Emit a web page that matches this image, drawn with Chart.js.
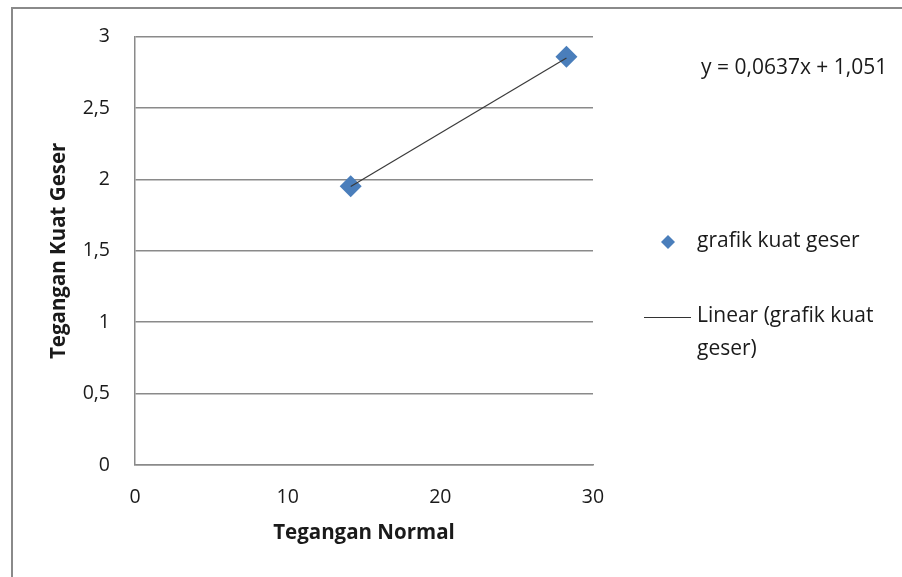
<!DOCTYPE html>
<html>
<head>
<meta charset="utf-8">
<script src="https://cdn.jsdelivr.net/npm/chart.js@4.4.1/dist/chart.umd.min.js"></script>
<style>
  html, body { margin: 0; padding: 0; background: #ffffff; }
  #wrap { width: 902px; height: 577px; position: relative; }
</style>
</head>
<body>
<div id="wrap"><canvas id="chart" width="902" height="577"></canvas></div>
<script>
// Direct shear test results
const normalStress = [14.13, 28.26];     // Tegangan Normal
const shearStress = [1.953, 2.860];      // Tegangan Kuat Geser
const trendSlope = 0.0637;
const trendIntercept = 1.051;
const yTicks = [0, 0.5, 1, 1.5, 2, 2.5, 3];
const xTicks = [0, 10, 20, 30];
const seriesName = 'grafik kuat geser';
const trendName = ['Linear (grafik kuat', 'geser)'];
const equationText = 'y = 0,0637x + 1,051';

const FONT = '"Open Sans", "Noto Sans", sans-serif';
const commaNum = v => String(v).replace('.', ',');

const points = normalStress.map((x, i) => ({ x: x, y: shearStress[i] }));
const trendPoints = normalStress.map(x => ({ x: x, y: trendSlope * x + trendIntercept }));

// white page with the outer chart frame
const framePlugin = {
  id: 'frame',
  beforeDraw(chart) {
    const c = chart.ctx;
    c.save();
    c.fillStyle = '#ffffff';
    c.fillRect(0, 0, chart.width, chart.height);
    c.strokeStyle = '#8a8a8a';
    c.lineWidth = 2;
    c.beginPath();
    c.moveTo(12, chart.height + 2);
    c.lineTo(12, 8);
    c.lineTo(chart.width + 2, 8);
    c.stroke();
    c.restore();
  }
};

// legend and trendline equation on the right side
const sidePlugin = {
  id: 'side',
  afterDraw(chart) {
    const c = chart.ctx;
    c.save();
    c.fillStyle = '#1a1a1a';
    c.textBaseline = 'middle';
    c.textAlign = 'left';
    c.font = '21px ' + FONT;
    c.fillText(equationText, 701, 68);

    // series marker
    const mx = 668, my = 242, r = 7;
    c.fillStyle = '#4a7ebb';
    c.beginPath();
    c.moveTo(mx, my - r);
    c.lineTo(mx + r, my);
    c.lineTo(mx, my + r);
    c.lineTo(mx - r, my);
    c.closePath();
    c.fill();
    c.fillStyle = '#1a1a1a';
    c.font = '21px ' + FONT;
    c.fillText(seriesName, 697, 241);

    // trendline sample
    c.strokeStyle = '#333333';
    c.lineWidth = 1;
    c.beginPath();
    c.moveTo(644, 317.5);
    c.lineTo(691, 317.5);
    c.stroke();
    c.fillText(trendName[0], 697, 316);
    c.fillText(trendName[1], 697, 349);
    c.restore();
  }
};

new Chart(document.getElementById('chart'), {
  type: 'scatter',
  data: {
    datasets: [
      {
        label: trendName.join(' '),
        data: trendPoints,
        showLine: true,
        borderColor: '#3a3a3a',
        borderWidth: 1.2,
        pointRadius: 0,
        pointHoverRadius: 0,
        fill: false,
        order: 1
      },
      {
        label: seriesName,
        data: points,
        pointStyle: 'rectRot',
        pointRadius: 11,
        pointHoverRadius: 11,
        backgroundColor: '#4a7ebb',
        borderColor: '#4a7ebb',
        borderWidth: 0,
        order: 2
      }
    ]
  },
  plugins: [framePlugin, sidePlugin],
  options: {
    responsive: false,
    animation: false,
    events: [],
    layout: { padding: { top: 0, right: 309, bottom: 0, left: 44 } },
    plugins: {
      legend: { display: false },
      tooltip: { enabled: false },
      title: { display: false }
    },
    scales: {
      x: {
        type: 'linear',
        min: 0,
        max: 30,
        afterBuildTicks(scale) { scale.ticks = xTicks.map(v => ({ value: v })); },
        afterFit(scale) { scale.height = 112; },
        grid: { display: false, drawTicks: false },
        border: { display: true, color: '#8a8a8a', width: 1.5 },
        ticks: {
          color: '#1a1a1a',
          font: { family: FONT, size: 19.5 },
          padding: 21,
          maxRotation: 0,
          callback: v => commaNum(v)
        },
        title: {
          display: true,
          text: 'Tegangan Normal',
          color: '#1a1a1a',
          font: { family: FONT, size: 20.5, weight: 'bold' },
          padding: { top: 4, bottom: 32 }
        }
      },
      y: {
        type: 'linear',
        min: 0,
        max: 3,
        afterBuildTicks(scale) { scale.ticks = yTicks.map(v => ({ value: v })); },
        afterFit(scale) { scale.width = 91; },
        grid: {
          color: '#8a8a8a',
          lineWidth: 1.5,
          drawTicks: false
        },
        border: { display: true, color: '#8a8a8a', width: 1.5 },
        ticks: {
          color: '#1a1a1a',
          font: { family: FONT, size: 19.5 },
          padding: 25,
          callback: v => commaNum(v)
        },
        title: {
          display: true,
          text: 'Tegangan Kuat Geser',
          color: '#1a1a1a',
          font: { family: FONT, size: 20.5, weight: 'bold' },
          padding: { top: 3, bottom: 4 }
        }
      }
    }
  }
});
</script>
</body>
</html>
